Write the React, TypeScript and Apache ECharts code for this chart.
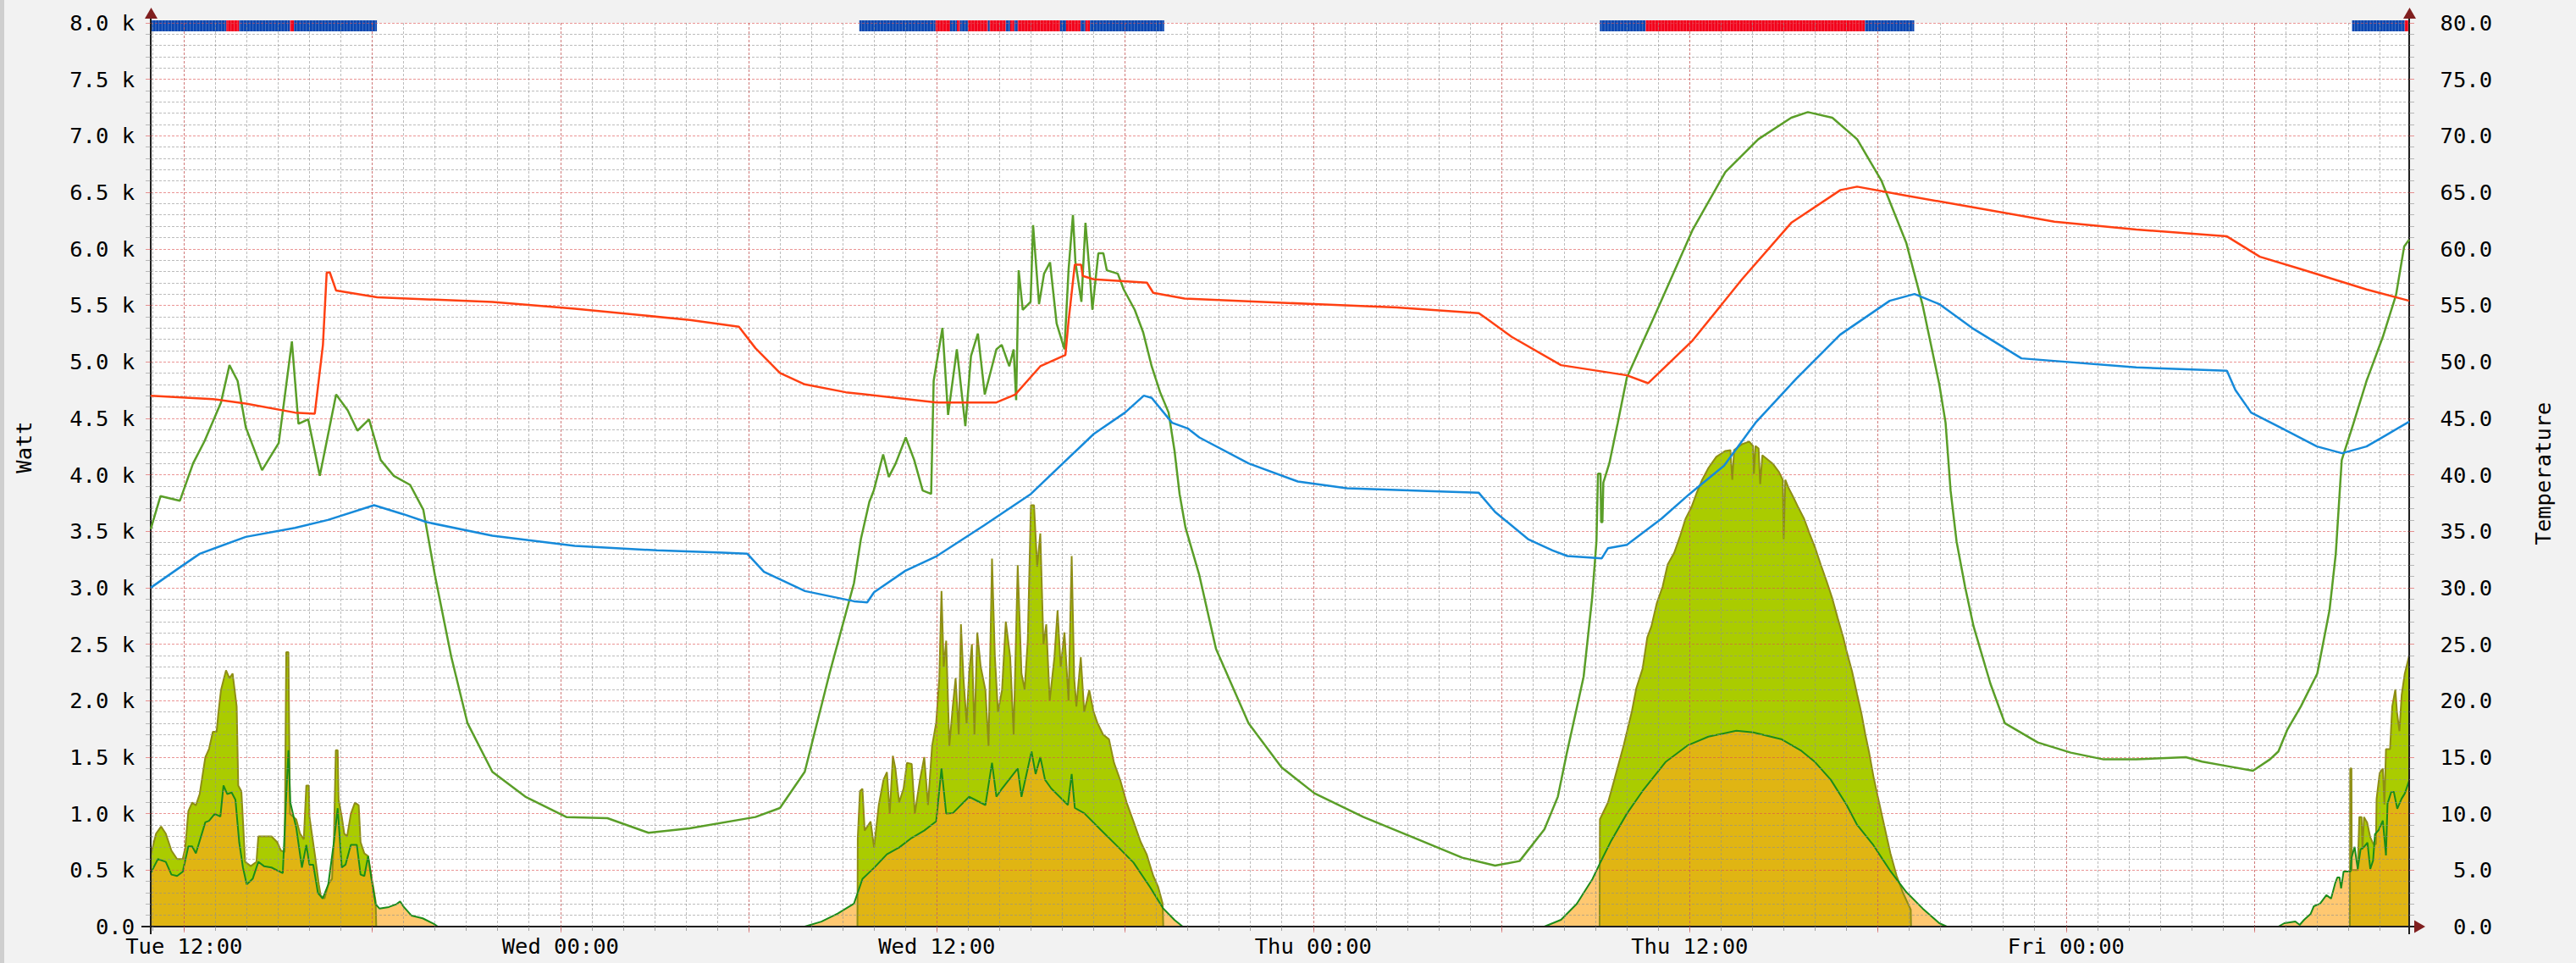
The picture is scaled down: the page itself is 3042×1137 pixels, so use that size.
import React, { useEffect, useRef } from 'react';
import * as echarts from 'echarts';

// ---------- axis extents (hours since Tue 00:00) ----------
const X_MIN = 10.94;
const X_MAX = 82.94;
const xLabelHours = [12, 24, 36, 48, 60, 72];
const xLabelTexts = ['Tue 12:00', 'Wed 00:00', 'Wed 12:00', 'Thu 00:00', 'Thu 12:00', 'Fri 00:00'];

// ---------- PV power (Watt), yellow-green area ----------
const pvTue: [number, number][] = [[10.94,635],[11.11,823],[11.27,886],[11.42,823],[11.6,673],[11.78,598],[11.96,598],[12.04,698],[12.14,1023],[12.26,1098],[12.38,1073],[12.5,1173],[12.68,1499],[12.8,1574],[12.92,1724],[13.04,1724],[13.1,1900],[13.18,2094],[13.34,2269],[13.45,2200],[13.55,2240],[13.68,1949],[13.73,1249],[13.83,1198],[13.95,573],[14.13,535],[14.31,573],[14.37,798],[14.55,798],[14.79,798],[14.97,748],[15.09,673],[15.21,660],[15.26,2429],[15.33,2429],[15.38,998],[15.58,948],[15.7,823],[15.82,773],[15.9,1249],[15.98,1249],[16.0,973],[16.18,623],[16.3,373],[16.36,273],[16.48,248],[16.6,373],[16.72,423],[16.78,773],[16.84,1561],[16.9,1561],[16.93,1123],[17.03,973],[17.11,823],[17.2,798],[17.32,998],[17.45,1098],[17.57,1073],[17.63,748],[17.75,648],[17.87,623],[17.99,423],[18.11,223],[18.13,0]];
const pvWed: [number, number][] = [[33.47,0],[33.48,780],[33.55,1200],[33.63,1220],[33.7,850],[33.89,930],[34.0,700],[34.15,1076],[34.3,1300],[34.41,1367],[34.5,1000],[34.6,1512],[34.68,1400],[34.8,1100],[34.94,1222],[35.05,1450],[35.2,1440],[35.3,1000],[35.46,1295],[35.6,1500],[35.72,1076],[35.85,1600],[35.98,1804],[36.08,2200],[36.15,2970],[36.22,2300],[36.3,2531],[36.4,1600],[36.51,1949],[36.6,2200],[36.7,1700],[36.77,2676],[36.85,2200],[36.95,1800],[37.03,2240],[37.12,2500],[37.2,1700],[37.29,2604],[37.4,2300],[37.55,2094],[37.65,1600],[37.76,3258],[37.85,2400],[37.95,1900],[38.08,2094],[38.2,2700],[38.34,2385],[38.45,1700],[38.58,3200],[38.7,2240],[38.8,2100],[38.9,2531],[39.0,3730],[39.1,3730],[39.2,3185],[39.3,3480],[39.4,2500],[39.49,2676],[39.6,2000],[39.75,2385],[39.85,2800],[39.95,2300],[40.07,2604],[40.2,2000],[40.3,3280],[40.38,2200],[40.45,1949],[40.59,2385],[40.7,1900],[40.86,2094],[41.0,1900],[41.12,1804],[41.3,1700],[41.49,1658],[41.65,1450],[41.85,1295],[42.05,1100],[42.27,931],[42.5,750],[42.69,640],[42.9,450],[43.06,349],[43.2,204],[43.22,0]];
const pvThu: [number, number][] = [[57.13,0],[57.14,950],[57.4,1100],[57.6,1300],[57.9,1606],[58.16,1906],[58.3,2109],[58.5,2282],[58.65,2559],[58.78,2657],[58.95,2859],[59.14,3010],[59.3,3205],[59.51,3310],[59.7,3460],[59.87,3610],[60.05,3707],[60.22,3835],[60.4,3955],[60.6,4060],[60.85,4158],[61.13,4210],[61.3,4218],[61.36,3955],[61.42,4218],[61.67,4270],[61.9,4293],[62.02,4255],[62.05,4008],[62.1,4255],[62.2,4233],[62.25,3917],[62.32,4173],[62.65,4098],[62.85,4023],[62.97,3955],[63.0,3430],[63.05,3955],[63.16,3880],[63.3,3805],[63.47,3707],[63.65,3610],[63.82,3482],[64.0,3355],[64.18,3205],[64.37,3055],[64.55,2904],[64.72,2732],[64.9,2559],[64.99,2454],[65.18,2259],[65.34,2056],[65.48,1884],[65.6,1704],[65.73,1531],[65.86,1330],[66.0,1150],[66.2,900],[66.4,650],[66.6,450],[66.8,300],[67.0,180],[67.05,150],[67.06,0]];
const pvFri: [number, number][] = [[81.05,0],[81.06,1400],[81.1,1400],[81.11,500],[81.3,500],[81.35,970],[81.42,970],[81.45,680],[81.5,970],[81.6,920],[81.7,790],[81.8,730],[81.88,730],[81.9,1130],[82.0,1360],[82.1,1400],[82.15,1080],[82.2,1570],[82.33,1570],[82.4,1950],[82.5,2100],[82.55,1900],[82.63,1730],[82.7,2050],[82.8,2240],[82.94,2400]];

// ---------- second power series (Watt), orange area with green outline ----------
const loadTue: [number, number][] = [[10.94,473],[11.17,598],[11.42,573],[11.6,460],[11.78,448],[11.96,485],[12.14,711],[12.26,711],[12.38,648],[12.68,923],[12.8,936],[12.98,998],[13.16,973],[13.26,1249],[13.38,1173],[13.52,1186],[13.64,1123],[13.76,748],[13.88,523],[14.0,373],[14.19,423],[14.37,573],[14.55,535],[14.79,523],[14.97,498],[15.15,473],[15.25,1098],[15.33,1561],[15.39,1098],[15.58,873],[15.76,523],[15.9,723],[16.0,548],[16.12,548],[16.27,298],[16.42,248],[16.6,373],[16.78,748],[16.9,1048],[17.03,523],[17.15,548],[17.32,723],[17.51,723],[17.63,460],[17.75,448],[17.87,623],[17.99,398],[18.11,198],[18.23,160],[18.53,173],[18.77,198],[18.89,223],[19.01,173],[19.25,98],[19.61,73],[19.97,23],[20.09,0]];
const loadWed: [number, number][] = [[31.79,0],[32.32,44],[32.84,116],[33.36,204],[33.63,422],[34.0,520],[34.41,640],[34.8,700],[35.2,785],[35.6,850],[35.98,931],[36.15,1400],[36.3,1000],[36.51,1004],[37.03,1149],[37.55,1076],[37.76,1450],[37.9,1150],[38.08,1222],[38.58,1400],[38.7,1149],[39.02,1550],[39.15,1350],[39.3,1500],[39.45,1300],[39.65,1222],[40.18,1076],[40.3,1350],[40.4,1050],[40.7,1004],[41.22,858],[41.75,713],[42.27,567],[42.8,349],[43.22,160],[43.58,58],[43.84,0]];
const loadThu: [number, number][] = [[55.37,0],[55.9,60],[56.4,200],[56.9,420],[57.14,560],[57.5,760],[58.0,1000],[58.5,1200],[59.23,1456],[59.95,1606],[60.6,1681],[61.49,1734],[62.03,1719],[62.92,1659],[63.57,1554],[64.0,1456],[64.5,1300],[65.0,1080],[65.34,900],[65.86,720],[66.38,500],[66.91,305],[67.43,160],[67.96,30],[68.2,0]];
const loadFri: [number, number][] = [[78.77,0],[78.96,30],[79.31,45],[79.45,15],[79.59,60],[79.8,113],[79.9,180],[80.1,203],[80.3,278],[80.45,248],[80.58,383],[80.65,435],[80.72,435],[80.77,338],[80.85,488],[81.07,488],[81.1,608],[81.2,706],[81.3,510],[81.39,683],[81.5,706],[81.61,743],[81.7,510],[81.79,585],[81.85,818],[81.97,855],[82.1,938],[82.2,630],[82.25,1088],[82.37,1193],[82.45,1193],[82.56,1043],[82.7,1133],[82.8,1178],[82.94,1291]];

// ---------- temperatures (right axis) ----------
const collectorTemp: [number, number][] = [[10.94,35.2],[11.25,38.1],[11.87,37.7],[12.29,41.0],[12.66,43.0],[13.18,46.4],[13.45,49.7],[13.71,48.3],[13.97,44.2],[14.49,40.4],[15.02,42.8],[15.44,51.8],[15.65,44.5],[15.96,44.9],[16.33,39.9],[16.85,47.1],[17.22,45.7],[17.53,43.9],[17.9,44.9],[18.27,41.3],[18.69,39.9],[19.21,39.1],[19.63,36.9],[20.0,31.1],[20.52,23.9],[21.04,18.0],[21.83,13.7],[22.88,11.5],[24.19,9.7],[25.5,9.6],[26.81,8.3],[28.12,8.7],[30.22,9.7],[31.0,10.5],[31.79,13.7],[32.58,22.4],[33.36,30.4],[33.58,34.3],[33.85,37.6],[33.99,38.6],[34.29,41.8],[34.47,39.8],[34.69,41.0],[35.01,43.3],[35.28,41.3],[35.55,38.6],[35.82,38.3],[35.9,48.3],[36.18,53.0],[36.36,45.3],[36.64,51.1],[36.91,44.3],[37.09,50.5],[37.31,52.5],[37.53,47.1],[37.9,51.1],[38.07,51.5],[38.31,49.6],[38.45,51.1],[38.53,46.6],[38.61,58.1],[38.74,54.6],[38.99,55.3],[39.07,62.1],[39.26,55.1],[39.42,57.8],[39.61,58.8],[39.82,53.4],[40.07,51.1],[40.2,58.1],[40.34,63.0],[40.42,58.8],[40.61,55.3],[40.74,62.3],[40.88,57.6],[40.96,54.6],[41.15,59.6],[41.31,59.6],[41.42,58.1],[41.77,57.8],[41.96,56.4],[42.31,54.6],[42.58,52.6],[42.85,49.6],[43.12,47.3],[43.39,45.5],[43.58,42.1],[43.74,38.3],[43.93,35.3],[44.37,31.1],[44.9,24.6],[45.94,18.0],[46.99,14.1],[48.04,11.8],[49.6,9.7],[51.18,7.9],[52.75,6.1],[53.8,5.4],[54.58,5.8],[55.37,8.6],[55.8,11.5],[56.08,15.3],[56.62,22.1],[56.89,29.0],[57.03,34.1],[57.08,40.1],[57.16,40.1],[57.18,35.8],[57.22,35.8],[57.25,39.3],[57.44,41.0],[57.71,44.6],[58.0,48.6],[59.05,55.1],[60.1,61.7],[61.14,66.8],[62.19,69.7],[63.24,71.6],[63.77,72.1],[64.55,71.6],[65.34,69.7],[66.12,66.0],[66.91,60.5],[67.43,55.0],[67.96,48.0],[68.16,44.6],[68.32,38.6],[68.51,34.1],[68.78,30.1],[69.05,26.6],[69.59,21.5],[70.05,18.0],[71.1,16.3],[72.15,15.4],[73.2,14.8],[74.24,14.8],[75.82,15.0],[76.34,14.6],[77.15,14.2],[77.96,13.8],[78.5,14.8],[78.77,15.5],[79.05,17.4],[79.49,19.5],[80.01,22.4],[80.4,28.0],[80.6,33.0],[80.79,41.3],[81.16,44.5],[81.58,48.3],[82.1,52.2],[82.52,55.9],[82.78,60.2],[82.94,60.8]];
const storageTopTemp: [number, number][] = [[10.94,47.0],[12.92,46.7],[13.97,46.3],[15.54,45.5],[16.17,45.4],[16.43,51.5],[16.55,57.9],[16.65,57.9],[16.85,56.3],[18.16,55.7],[21.83,55.3],[24.46,54.7],[28.12,53.7],[29.69,53.1],[30.22,51.2],[31.0,49.0],[31.79,48.0],[33.1,47.3],[36.0,46.4],[37.9,46.4],[38.5,47.1],[39.3,49.6],[40.1,50.6],[40.2,53.6],[40.4,58.6],[40.6,58.6],[40.65,57.6],[41.0,57.3],[42.7,57.0],[42.9,56.1],[43.9,55.6],[48.04,55.1],[50.66,54.8],[53.28,54.3],[53.54,53.8],[54.33,52.2],[55.9,49.7],[58.0,48.8],[58.68,48.1],[60.1,51.9],[61.67,57.3],[63.24,62.3],[64.81,65.2],[65.34,65.5],[66.91,64.7],[69.0,63.7],[71.63,62.4],[74.24,61.7],[77.13,61.1],[78.18,59.3],[79.49,58.2],[81.58,56.4],[82.94,55.4]];
const storageBottomTemp: [number, number][] = [[10.94,30.0],[11.87,31.8],[12.5,33.0],[13.97,34.5],[15.54,35.3],[16.59,36.0],[18.06,37.3],[19.0,36.5],[19.74,35.8],[21.83,34.6],[24.46,33.7],[27.08,33.3],[29.17,33.1],[29.96,33.0],[30.49,31.4],[31.8,29.7],[33.36,28.8],[33.78,28.7],[34.0,29.6],[35.0,31.5],[36.0,32.8],[37.5,35.5],[39.0,38.3],[41.0,43.6],[42.0,45.5],[42.6,47.0],[42.85,46.8],[43.5,44.6],[44.0,44.1],[44.37,43.3],[45.94,41.0],[47.51,39.4],[49.08,38.8],[52.23,38.5],[53.28,38.4],[53.8,36.7],[54.85,34.3],[55.63,33.3],[56.1,32.8],[57.2,32.6],[57.4,33.5],[58.0,33.8],[59.1,36.1],[60.0,38.3],[61.1,40.8],[62.1,44.6],[63.4,48.5],[64.8,52.4],[66.38,55.4],[67.17,56.0],[67.96,55.1],[69.0,53.0],[70.58,50.3],[74.24,49.5],[77.13,49.2],[77.4,47.5],[77.9,45.5],[78.96,44.0],[80.0,42.5],[80.8,41.9],[81.58,42.5],[82.2,43.5],[82.94,44.7]];

// ---------- status strip (0 = blue, 1 = red) ----------
const statusStart = [10.94,13.35,13.76,15.38,15.51,33.53,35.96,36.42,36.64,36.74,36.99,37.63,37.69,38.2,38.34,38.47,38.58,39.93,40.12,40.58,40.74,40.88,57.14,58.6,65.59,81.12,82.8];
const statusEnd = [13.35,13.76,15.38,15.51,18.15,35.96,36.42,36.64,36.74,36.99,37.63,37.69,38.2,38.34,38.47,38.58,39.93,40.12,40.58,40.74,40.88,43.25,58.6,65.59,67.16,82.8,82.94];
const statusState = [0,1,0,1,0,0,1,0,1,0,1,0,1,0,1,0,1,0,1,0,1,0,0,1,0,0,1];
const STRIP_TOP = 8022;
const STRIP_BOTTOM = 7925;

const FONT = 'DejaVu Sans Mono';
const GRID_MINOR = 'rgba(143,143,143,0.6)';
const GRID_MAJOR = 'rgba(222,79,79,0.6)';
const ARROW = '#801F1F';
const AXIS = '#1F1F1F';

function joinSegments(segs: [number, number][][]): any[] {
  const out: any[] = [];
  segs.forEach((s, i) => {
    if (i > 0) out.push([s[0][0] - 0.005, '-']);
    s.forEach((p) => out.push(p));
  });
  return out;
}

export default function App() {
  const ref = useRef<HTMLDivElement>(null);
  useEffect(() => {
    if (!ref.current) return;
    const chart = echarts.init(ref.current, undefined, { renderer: 'svg' });

    const hourTicks: number[] = [];
    for (let h = Math.ceil(X_MIN); h <= Math.floor(X_MAX); h++) hourTicks.push(h);
    const sixHourTicks = hourTicks.filter((h) => h % 6 === 0);

    const fmtX = (v: number) => {
      const i = xLabelHours.findIndex((h) => Math.abs(h - v) < 1e-6);
      return i >= 0 ? xLabelTexts[i] : '';
    };

    const statusData = statusStart.map((s, i) => [s, statusEnd[i], statusState[i]]);

    const option: any = {
      animation: false,
      backgroundColor: '#F2F2F2',
      grid: { left: 178, right: 197, top: 27, bottom: 43, show: true, backgroundColor: '#FFFFFF', borderWidth: 0 },
      xAxis: [
        {
          type: 'value', min: X_MIN, max: X_MAX, position: 'bottom', z: 3,
          axisLine: { show: true, onZero: false, lineStyle: { color: AXIS, width: 2 } },
          axisTick: { show: true, customValues: hourTicks, length: 5, lineStyle: { color: 'rgba(143,143,143,0.8)', width: 1 } },
          axisLabel: { show: false },
          splitLine: { show: true, lineStyle: { color: GRID_MINOR, type: [3, 2], width: 1 } },
        },
        {
          type: 'value', min: X_MIN, max: X_MAX, position: 'bottom', z: 3,
          axisLine: { show: false },
          axisTick: { show: true, customValues: sixHourTicks, length: 7, lineStyle: { color: GRID_MAJOR, width: 1 } },
          axisLabel: { show: true, customValues: xLabelHours, formatter: fmtX, color: '#000', fontFamily: FONT, fontSize: 25.5, margin: 10 },
          splitLine: { show: true, lineStyle: { color: GRID_MAJOR, type: [3, 2], width: 1 } },
        },
      ],
      yAxis: [
        {
          type: 'value', min: 0, max: 8000, interval: 500, position: 'left', z: 3,
          axisLine: { show: true, lineStyle: { color: AXIS, width: 2 } },
          axisTick: { show: true, length: 6, lineStyle: { color: GRID_MAJOR } },
          minorTick: { show: true, splitNumber: 5, length: 6, lineStyle: { color: GRID_MINOR } },
          splitLine: { show: true, lineStyle: { color: GRID_MAJOR, type: [3, 2], width: 1 } },
          minorSplitLine: { show: true, lineStyle: { color: GRID_MINOR, type: [3, 2], width: 1 } },
          axisLabel: {
            formatter: (v: number) => (v === 0 ? '0.0' : (v / 1000).toFixed(1) + ' k'),
            color: '#000', fontFamily: FONT, fontSize: 25.5, margin: 19,
          },
        },
        {
          type: 'value', min: 0, max: 80, interval: 5, position: 'right', z: 3,
          axisLine: { show: true, lineStyle: { color: AXIS, width: 2 } },
          axisTick: { show: true, length: 6, lineStyle: { color: GRID_MAJOR } },
          minorTick: { show: true, splitNumber: 5, length: 6, lineStyle: { color: GRID_MINOR } },
          splitLine: { show: false },
          minorSplitLine: { show: false },
          axisLabel: {
            formatter: (v: number) => v.toFixed(1),
            color: '#000', fontFamily: FONT, fontSize: 25.5, margin: 98, align: 'right',
          },
        },
      ],
      graphic: [
        { type: 'rect', shape: { x: 0, y: 0, width: 5, height: 1137 }, style: { fill: '#CFCFCF' }, silent: true },
        { type: 'text', x: 28, y: 528, rotation: Math.PI / 2, style: { text: 'Watt', font: `25.5px "${FONT}"`, fill: '#000', align: 'center', verticalAlign: 'middle' } },
        { type: 'text', x: 3003, y: 559, rotation: Math.PI / 2, style: { text: 'Temperature', font: `25.5px "${FONT}"`, fill: '#000', align: 'center', verticalAlign: 'middle' } },
        { type: 'line', shape: { x1: 178, y1: 20, x2: 178, y2: 27 }, style: { stroke: AXIS, lineWidth: 2 }, z: 5 },
        { type: 'line', shape: { x1: 178, y1: 1094, x2: 178, y2: 1103 }, style: { stroke: AXIS, lineWidth: 2 }, z: 5 },
        { type: 'line', shape: { x1: 2845, y1: 20, x2: 2845, y2: 27 }, style: { stroke: AXIS, lineWidth: 2 }, z: 5 },
        { type: 'line', shape: { x1: 2845, y1: 1094, x2: 2845, y2: 1103 }, style: { stroke: AXIS, lineWidth: 2 }, z: 5 },
        { type: 'line', shape: { x1: 167, y1: 1094, x2: 178, y2: 1094 }, style: { stroke: AXIS, lineWidth: 2 }, z: 5 },
        { type: 'line', shape: { x1: 2845, y1: 1094, x2: 2852, y2: 1094 }, style: { stroke: AXIS, lineWidth: 2 }, z: 5 },
        { type: 'polygon', shape: { points: [[171, 22], [186, 22], [178.5, 9]] }, style: { fill: ARROW }, z: 6 },
        { type: 'polygon', shape: { points: [[2838, 22], [2853, 22], [2845.5, 9]] }, style: { fill: ARROW }, z: 6 },
        { type: 'polygon', shape: { points: [[2851, 1086.5], [2851, 1101.5], [2864, 1094]] }, style: { fill: ARROW }, z: 6 },
      ],
      series: [
        {
          name: 'PV', type: 'line', xAxisIndex: 0, yAxisIndex: 0, z: 2,
          data: joinSegments([pvTue, pvWed, pvThu, pvFri]),
          showSymbol: false, connectNulls: false,
          lineStyle: { color: '#8E8E14', width: 2 },
          areaStyle: { color: '#AACC00', opacity: 1 },
        },
        {
          name: 'Load', type: 'line', xAxisIndex: 0, yAxisIndex: 0, z: 2,
          data: joinSegments([loadTue, loadWed, loadThu, loadFri]),
          showSymbol: false, connectNulls: false,
          lineStyle: { color: '#1A8C1A', width: 2 },
          areaStyle: { color: 'rgb(255,168,30)', opacity: 0.63 },
        },
        {
          name: 'Status', type: 'custom', xAxisIndex: 0, yAxisIndex: 0, z: 2, clip: false, silent: true,
          encode: { x: [0, 1] },
          data: statusData,
          renderItem: (params: any, api: any) => {
            const s = api.value(0);
            const e = api.value(1);
            const st = api.value(2);
            const p0 = api.coord([s, STRIP_TOP]);
            const p1 = api.coord([e, STRIP_BOTTOM]);
            const children: any[] = [
              { type: 'rect', shape: { x: p0[0], y: p0[1], width: p1[0] - p0[0], height: p1[1] - p0[1] }, style: { fill: st ? '#F2001A' : '#0A46B0' } },
            ];
            for (let k = Math.ceil(s * 10) / 10; k < e - 0.02; k += 0.1) {
              const x = api.coord([k, STRIP_TOP])[0];
              children.push({ type: 'line', shape: { x1: x, y1: p0[1], x2: x, y2: p1[1] }, style: { stroke: 'rgba(255,255,255,0.25)', lineWidth: 1 } });
            }
            return { type: 'group', children };
          },
        },
        {
          name: 'Collector', type: 'line', xAxisIndex: 0, yAxisIndex: 1, z: 4,
          data: collectorTemp, showSymbol: false,
          lineStyle: { color: '#5A9E28', width: 2.5 },
        },
        {
          name: 'Storage top', type: 'line', xAxisIndex: 0, yAxisIndex: 1, z: 4,
          data: storageTopTemp, showSymbol: false,
          lineStyle: { color: '#FF4012', width: 2.5 },
        },
        {
          name: 'Storage bottom', type: 'line', xAxisIndex: 0, yAxisIndex: 1, z: 4,
          data: storageBottomTemp, showSymbol: false,
          lineStyle: { color: '#168ADA', width: 2.5 },
        },
      ],
    };
    chart.setOption(option);
    return () => chart.dispose();
  }, []);

  return <div ref={ref} style={{ position: 'absolute', left: 0, top: 0, width: 3042, height: 1137 }} />;
}
